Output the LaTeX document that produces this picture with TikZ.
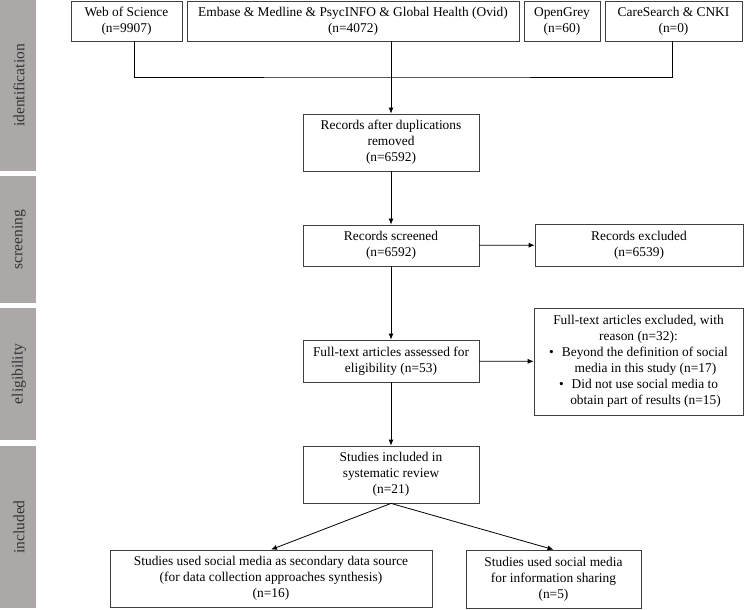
\documentclass[tikz,border=0pt]{standalone}
\usepackage{fontspec}
\setmainfont{Liberation Serif}
\usetikzlibrary{arrows.meta}
\definecolor{bargray}{HTML}{ABA8A7}
\definecolor{boxline}{HTML}{404040}
\definecolor{labelcol}{HTML}{333333}
\begin{document}
\begin{tikzpicture}[x=1pt,y=-1pt,
  box/.style={draw=boxline, line width=0.8pt, align=center, inner sep=2pt,
    font=\fontsize{13.4}{16}\selectfont},
  phase/.style={fill=bargray, draw=none, inner sep=0pt, minimum width=36pt},
  phaselabel/.style={rotate=90, text=labelcol, font=\fontsize{15.5}{18}\selectfont},
  conn/.style={line width=0.8pt, draw=black},
  arr/.style={conn, -{Latex[length=6pt,width=5pt]}}]
\useasboundingbox (0,0) rectangle (744,610);
% phase bars
\node[phase, minimum height=171pt] (pid) at (18,85.5) {};
\node[phaselabel] (lid) at (19,85.5) {identification};
\node[phase, minimum height=127pt] (psc) at (18,239.5) {};
\node[phaselabel] (lsc) at (19,239.5) {screening};
\node[phase, minimum height=132pt] (pel) at (18,374) {};
\node[phaselabel] (lel) at (19,374) {eligibility};
\node[phase, minimum height=162pt] (pin) at (18,527) {};
\node[phaselabel] (lin) at (19,527) {included};
% sources
\node[box, minimum width=111pt, minimum height=40pt] (s1) at (126.5,21) {Web of Science\\(n=9907)};
\node[box, minimum width=332pt, minimum height=40pt] (s2) at (353,21) {Embase \& Medline \& PsycINFO \& Global Health (Ovid)\\(n=4072)};
\node[box, minimum width=76pt, minimum height=40pt] (s3) at (562,21) {OpenGrey\\(n=60)};
\node[box, minimum width=137pt, minimum height=40pt] (s4) at (673.5,21) {CareSearch \& CNKI\\(n=0)};
% main column
\node[box, minimum width=176pt, minimum height=57pt] (dup) at (391,142.5) {Records after duplications\\removed\\(n=6592)};
\node[box, minimum width=176pt, minimum height=41pt] (scr) at (391,245.5) {Records screened\\(n=6592)};
\node[box, minimum width=208pt, minimum height=42pt] (exc) at (639,245) {Records excluded\\(n=6539)};
\node[box, minimum width=176pt, minimum height=42pt] (ft) at (391,361) {Full-text articles assessed for\\eligibility (n=53)};
\node[box, minimum width=209pt, minimum height=107pt] (ftex) at (638.5,361.5) {Full-text articles excluded, with\\reason (n=32):\\\textbullet\hspace{8pt}Beyond the definition of social\\\hspace{14pt}media in this study (n=17)\\\textbullet\hspace{8pt}Did not use social media to\\\hspace{14pt}obtain part of results (n=15)};
\node[box, minimum width=176pt, minimum height=57pt] (inc) at (391,474.5) {Studies included in\\systematic review\\(n=21)};
\node[box, minimum width=322pt, minimum height=57pt] (b1) at (271,578.5) {Studies used social media as secondary data source\\(for data collection approaches synthesis)\\(n=16)};
\node[box, minimum width=175pt, minimum height=58pt] (b2) at (553.5,579) {Studies used social media\\for information sharing\\(n=5)};
% connectors
\coordinate (j) at (391,77);
\draw[conn] ([xshift=7.5pt]s1.south) |- (j) -| ([xshift=-1.5pt]s4.south);
\draw[arr] (s2.south -| dup.north) -- (dup.north);
\draw[arr] (dup) -- (scr);
\draw[arr] (scr) -- (exc);
\draw[arr] (scr) -- (ft);
\draw[arr] (ft) -- (ftex);
\draw[arr] (ft) -- (inc);
\draw[arr] (inc.south) -- (b1.north);
\draw[arr] (inc.south) -- (b2.north);
\end{tikzpicture}
\end{document}
